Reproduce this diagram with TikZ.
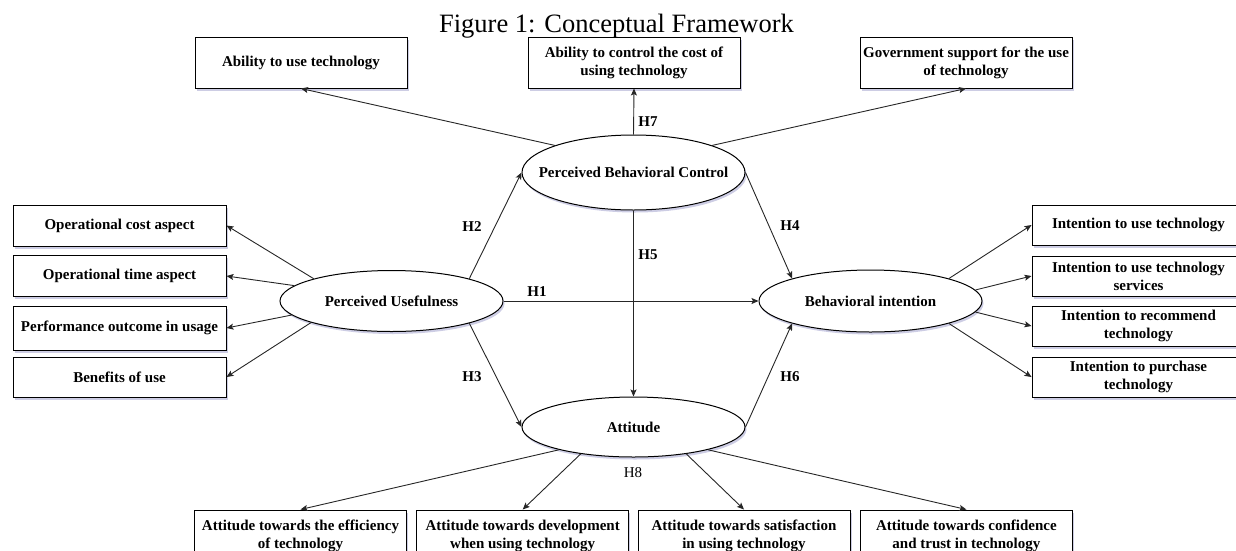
\documentclass[tikz,border=0pt]{standalone}
\usepackage{fontspec}
\setmainfont{Liberation Serif}
\usetikzlibrary{arrows.meta,shapes.geometric,shadows}
\newcommand{\zw}[1]{\makebox[0pt][c]{#1}}
\begin{document}
\begin{tikzpicture}[x=1pt,y=-1pt,
  sh/.style={drop shadow={shadow xshift=1.5pt,shadow yshift=-2.5pt,opacity=0.3,fill=blue!30!gray}},
  box/.style={draw=black,line width=1pt,fill=white,rectangle,minimum width=213pt,minimum height=41pt,inner sep=0pt,align=center,font=\bfseries\fontsize{15}{18}\selectfont,sh},
  oval/.style={draw=black,line width=1pt,fill=white,ellipse,minimum width=223pt,minimum height=61pt,inner sep=0pt,font=\bfseries\fontsize{15}{18}\selectfont,sh},
  arr/.style={draw=black!85,line width=0.9pt,-{Stealth[length=7pt,width=6pt,inset=1.5pt]}},
  hl/.style={font=\bfseries\fontsize{15}{18}\selectfont,inner sep=0pt},
  hr/.style={font=\fontsize{15}{18}\selectfont,inner sep=0pt}]
\useasboundingbox (0,0) rectangle (1236,550);
\clip (0,0) rectangle (1236,550);

% title
\node[anchor=base,inner sep=0pt,font=\fontsize{26.5}{30}\selectfont] (title) at (616.5,32) {Figure 1: Conceptual Framework};

% top boxes
\node[box,minimum width=212pt,minimum height=51pt] (t1) at (301,62.5) {Ability to use technology};
\node[box,minimum width=212pt,minimum height=51pt] (t2) at (634,62.5) {Ability to control the cost of\\using technology};
\node[box,minimum width=212pt,minimum height=51pt] (t3) at (966,62.5) {Government support for the use\\of technology};

% left boxes
\node[box] (l1) at (119.5,225.5) {Operational cost aspect};
\node[box] (l2) at (119.5,276) {Operational time aspect};
\node[box,minimum height=44pt] (l3) at (119.5,328) {Performance outcome in usage};
\node[box,minimum height=40pt] (l4) at (119.5,377) {Benefits of use};

% right boxes
\node[box,minimum height=40pt] (r1) at (1138.5,225) {Intention to use technology};
\node[box,minimum height=40pt] (r2) at (1138.5,276) {Intention to use technology\\services};
\node[box,minimum height=40pt] (r3) at (1138.5,326) {Intention to recommend\\technology};
\node[box,minimum height=40pt] (r4) at (1138.5,377) {Intention to purchase\\technology};

% bottom boxes
\node[box,minimum width=212pt,minimum height=51pt] (b1) at (300.5,535.5) {Attitude towards the efficiency\\of technology};
\node[box,minimum width=212pt,minimum height=51pt] (b2) at (522.7,535.5) {Attitude towards development\\when using technology};
\node[box,minimum width=212pt,minimum height=51pt] (b3) at (744,535.5) {Attitude towards satisfaction\\in using technology};
\node[box,minimum width=212pt,minimum height=51pt] (b4) at (966.4,535.5) {Attitude towards confidence\\and trust in technology};

% ellipses
\node[oval,minimum height=75pt] (pbc) at (633.5,172.5) {\zw{Perceived Behavioral Control}};
\node[oval] (pu) at (391.5,301) {\zw{Perceived Usefulness}};
\node[oval,minimum height=62pt] (bi) at (870.5,301) {\zw{Behavioral intention}};
\node[oval,minimum height=60pt] (att) at (633.5,427) {\zw{Attitude}};

% connectors
\draw[arr] (pbc.161) -- (t1.south);
\draw[arr] (pbc.north) -- (t2.south);
\draw[arr] (pbc.19) -- (t3.south);
\draw[arr] (pu.16) -- (pbc.west);
\draw[arr] (pu.-16) -- (att.west);
\draw[arr] (pu.east) -- (bi.west);
\draw[arr] (pbc.south) -- (att.north);
\draw[arr] (pbc.east) -- (bi.164);
\draw[arr] (att.east) -- (bi.196);

\draw[arr] (pu.164) -- (l1.east);
\draw[arr] (pu.171) -- (l2.east);
\draw[arr] (pu.188) -- (l3.east);
\draw[arr] (pu.195) -- (l4.east);

\draw[arr] (bi.16) -- (r1.west);
\draw[arr] (bi.6) -- (r2.west);
\draw[arr] (bi.-6) -- (r3.west);
\draw[arr] (bi.-16) -- (r4.west);

\draw[arr] (att.197) -- (b1.north);
\draw[arr] (att.207) -- (b2.north);
\draw[arr] (att.333) -- (b3.north);
\draw[arr] (att.343) -- (b4.north);

% labels
\node[hl] (h7) at (648,122) {H7};
\node[hl] (h2) at (472,227) {H2};
\node[hl] (h5) at (648,255) {H5};
\node[hl] (h1) at (537,292) {H1};
\node[hl] (h3) at (472,377) {H3};
\node[hl] (h4) at (790,226) {H4};
\node[hl] (h6) at (790,377) {H6};
\node[hr] (h8) at (633,473) {H8};
\end{tikzpicture}
\end{document}
